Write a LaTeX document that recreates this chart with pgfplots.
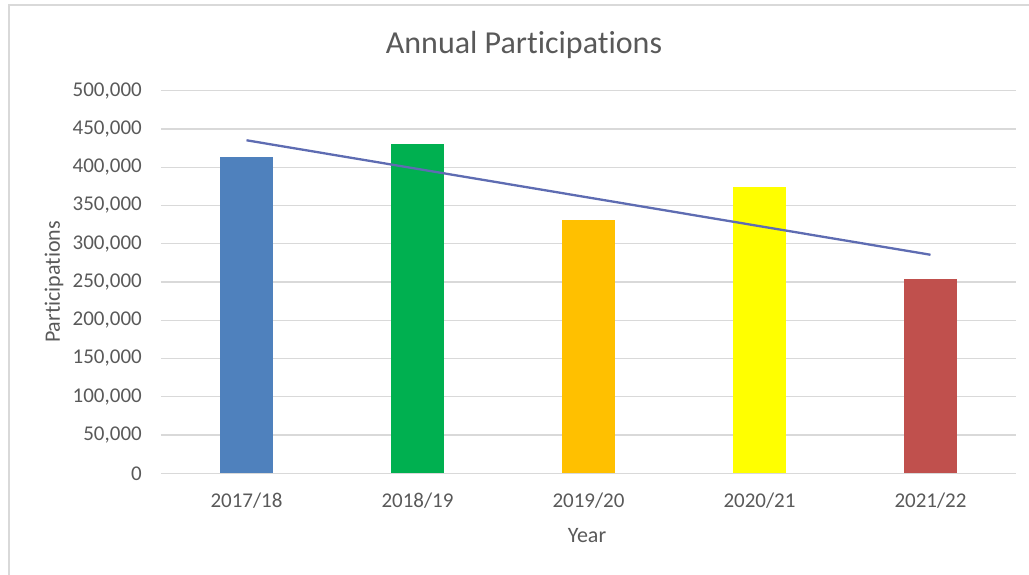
\documentclass[border=0pt]{standalone}
\usepackage{fontspec}
\setmainfont[Ligatures=NoCommon]{Carlito}
\usepackage{pgfplots}
\pgfplotsset{compat=1.18}
\definecolor{txt}{HTML}{595959}
\definecolor{gridc}{HTML}{D9D9D9}
\definecolor{frame}{HTML}{D9D9D9}
\definecolor{cblue}{HTML}{4F81BD}
\definecolor{cgreen}{HTML}{00B050}
\definecolor{corange}{HTML}{FFC000}
\definecolor{cyellow}{HTML}{FFFF00}
\definecolor{cred}{HTML}{C0504D}
\definecolor{trend}{HTML}{5E6CB2}
\begin{document}
\begin{tikzpicture}[x=1pt,y=1pt]
\path[use as bounding box] (0,0) rectangle (1029,575);
\draw[frame, line width=1.5pt] (9,0) -- (9,570) -- (1029,570);
\begin{axis}[
  at={(161pt,101.7pt)}, anchor=south west,
  scale only axis, width=855pt, height=382.6pt,
  xmin=0.5, xmax=5.5, ymin=0, ymax=500000,
  ytick distance=50000,
  xtick={1,2,3,4,5},
  xticklabels={2017/18,2018/19,2019/20,2020/21,2021/22},
  axis line style={draw=none},
  major tick length=0pt,
  ymajorgrids, grid style={gridc, line width=1.4pt},
  scaled y ticks=false,
  /pgf/number format/.cd, fixed, 1000 sep={,}, assume math mode=true,
  /pgfplots/.cd,
  tick label style={font=\fontsize{21}{24}\selectfont, text=txt},
  yticklabel style={anchor=east, inner sep=0pt, xshift=-19pt},
  xticklabel style={anchor=center, inner sep=0pt, yshift=-27.7pt},
]
\addplot[ybar, bar width=53pt, bar shift=0pt, fill=cblue, draw=none] coordinates {(1,413000)};
\addplot[ybar, bar width=53pt, bar shift=0pt, fill=cgreen, draw=none] coordinates {(2,430000)};
\addplot[ybar, bar width=53pt, bar shift=0pt, fill=corange, draw=none] coordinates {(3,331000)};
\addplot[ybar, bar width=53pt, bar shift=0pt, fill=cyellow, draw=none] coordinates {(4,374000)};
\addplot[ybar, bar width=53pt, bar shift=0pt, fill=cred, draw=none] coordinates {(5,254000)};
\addplot[trend, line width=2.3pt] coordinates {(1,435200) (5,285600)};
\end{axis}
\node[text=txt, font=\fontsize{32}{36}\selectfont] at (524,530) {Annual Participations};
\node[text=txt, font=\fontsize{22}{26}\selectfont] at (587,39) {Year};
\node[text=txt, font=\fontsize{22}{26}\selectfont, rotate=90] at (54,293) {Participations};
\end{tikzpicture}
\end{document}
